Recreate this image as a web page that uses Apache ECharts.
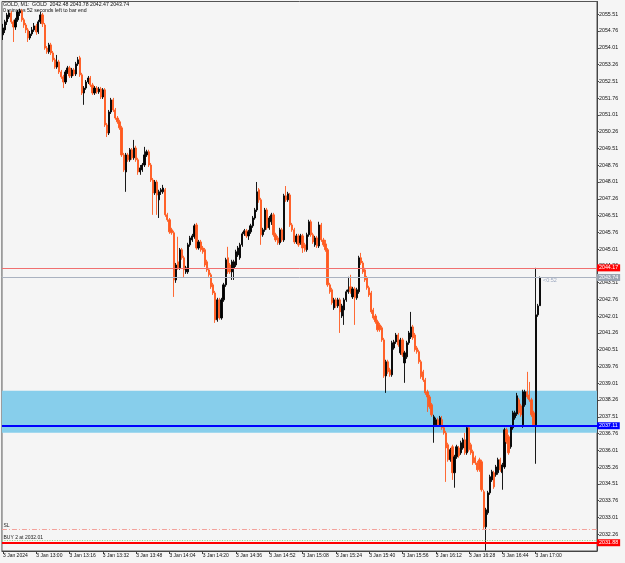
<!DOCTYPE html>
<html>
<head>
<meta charset="utf-8">
<script src="https://cdn.jsdelivr.net/npm/echarts@6/dist/echarts.min.js"></script>
<style>
html,body{margin:0;padding:0;background:#f5f5f5;}
#chart{width:625px;height:563px;}
</style>
</head>
<body>
<div id="chart"></div>
<script>
// ---- data (GOLD, M1, 3 Jan 2024) ----
const startHour = 12, startMinute = 44;   // first bar time
const slotCount = 286;                     // bars + right shift slots
const tickLabels = ['3 Jan 2024','3 Jan 13:00','3 Jan 13:16','3 Jan 13:32','3 Jan 13:48','3 Jan 14:04','3 Jan 14:20','3 Jan 14:36','3 Jan 14:52','3 Jan 15:08','3 Jan 15:24','3 Jan 15:40','3 Jan 15:56','3 Jan 16:12','3 Jan 16:28','3 Jan 16:44','3 Jan 17:00'];
const priceMin = 2031.51, priceMax = 2056.08, priceStep = 0.75;
// [open, close, low, high]
const ohlc = [
[2054.59,2054.90,2054.36,2055.08],[2054.81,2055.17,2054.67,2055.26],[2055.17,2055.48,2055.03,2055.57],[2055.39,2055.57,2055.30,2055.70],
[2055.57,2055.17,2055.08,2055.66],[2055.17,2054.94,2054.27,2055.26],[2054.94,2055.26,2054.81,2055.35],[2055.26,2055.61,2055.17,2055.70],
[2055.57,2055.66,2055.43,2055.75],[2055.66,2055.26,2055.17,2055.75],[2055.26,2055.03,2054.90,2055.35],[2055.03,2054.81,2054.67,2055.12],
[2054.81,2054.45,2054.27,2054.90],[2054.45,2054.63,2054.36,2054.76],[2054.63,2054.81,2054.54,2054.94],[2054.81,2054.99,2054.72,2055.12],
[2054.99,2054.72,2054.59,2055.08],[2054.72,2055.17,2054.63,2055.26],[2055.17,2055.48,2055.08,2055.61],[2055.48,2055.08,2054.94,2055.57],
[2055.03,2054.00,2053.92,2055.12],[2054.00,2053.83,2053.74,2054.09],[2053.83,2054.14,2053.74,2054.23],[2054.14,2053.78,2053.69,2054.23],
[2053.78,2053.47,2053.38,2053.87],[2053.47,2053.15,2053.07,2053.56],[2053.15,2053.38,2053.07,2053.69],[2053.38,2052.93,2052.84,2053.47],
[2052.93,2052.71,2052.62,2053.02],[2052.71,2052.48,2052.21,2052.80],[2052.48,2052.93,2052.39,2053.02],[2052.93,2053.11,2052.84,2053.20],
[2053.11,2052.75,2052.66,2053.20],[2052.75,2053.02,2052.66,2053.11],[2053.02,2052.84,2052.75,2053.11],[2052.84,2053.29,2052.75,2053.38],
[2053.29,2053.47,2053.20,2053.60],[2053.56,2052.80,2052.71,2053.65],[2052.80,2051.99,2051.90,2052.89],[2051.99,2052.21,2051.46,2052.30],
[2052.21,2052.48,2052.13,2052.57],[2052.48,2052.66,2052.39,2052.75],[2052.66,2052.35,2052.26,2052.75],[2052.35,2051.99,2051.90,2052.44],
[2051.99,2052.21,2051.90,2052.30],[2052.21,2052.04,2051.95,2052.30],[2052.04,2052.17,2051.95,2052.26],[2052.17,2051.81,2051.72,2052.26],
[2051.81,2052.13,2051.72,2052.21],[2052.13,2050.56,2050.47,2052.21],[2050.56,2050.20,2050.02,2050.65],[2050.20,2051.14,2050.11,2051.23],
[2051.14,2051.68,2051.05,2051.77],[2051.68,2051.23,2051.14,2051.77],[2051.23,2050.87,2050.79,2051.32],[2050.87,2050.70,2050.61,2050.96],
[2050.70,2050.43,2050.34,2050.79],[2050.43,2049.22,2049.13,2050.52],[2049.22,2048.55,2048.46,2049.31],[2048.46,2049.22,2047.57,2049.31],
[2049.22,2049.00,2048.91,2049.31],[2049.00,2049.45,2048.91,2049.53],[2049.45,2049.09,2049.00,2049.53],[2049.09,2049.53,2049.00,2049.89],
[2049.53,2049.00,2048.91,2049.63],[2049.00,2048.46,2048.33,2049.09],[2048.46,2048.64,2048.33,2048.77],[2048.55,2048.77,2048.46,2048.86],
[2048.77,2049.22,2048.68,2049.58],[2049.22,2049.36,2049.13,2049.45],[2049.36,2048.77,2048.68,2049.45],[2048.77,2048.10,2048.01,2048.86],
[2048.10,2047.52,2046.54,2048.19],[2047.52,2048.01,2047.43,2048.10],[2048.01,2047.43,2046.54,2048.10],[2047.21,2047.57,2046.40,2047.66],
[2047.57,2047.66,2047.43,2047.74],[2047.57,2047.74,2047.48,2047.88],[2047.66,2046.54,2046.45,2047.74],[2046.54,2046.32,2046.23,2046.63],
[2046.32,2045.78,2045.69,2046.40],[2045.87,2045.74,2045.65,2045.96],[2045.74,2043.63,2042.87,2045.83],[2043.63,2044.30,2043.50,2044.39],
[2044.44,2044.17,2044.08,2045.56],[2044.17,2044.98,2044.08,2045.06],[2044.98,2044.62,2044.53,2045.06],[2044.62,2044.08,2043.72,2044.71],
[2043.99,2044.17,2043.90,2044.26],[2043.99,2045.20,2043.90,2045.29],[2045.20,2045.51,2045.11,2045.60],[2045.42,2045.60,2045.33,2045.69],
[2045.56,2046.05,2045.47,2046.14],[2046.09,2045.06,2044.98,2046.18],[2045.06,2045.33,2044.98,2045.42],[2045.33,2044.98,2044.89,2045.42],
[2045.06,2044.89,2044.80,2045.15],[2044.98,2044.30,2044.21,2045.06],[2044.44,2044.08,2043.99,2044.53],[2044.08,2043.86,2043.77,2044.17],
[2043.86,2043.32,2043.23,2043.95],[2043.41,2043.05,2042.96,2043.50],[2043.05,2041.85,2041.71,2043.14],[2041.85,2042.74,2041.76,2042.83],
[2042.74,2041.93,2041.85,2042.83],[2041.93,2042.74,2041.85,2042.83],[2042.74,2043.41,2042.65,2043.50],[2043.41,2044.53,2043.32,2044.62],
[2044.62,2043.99,2043.90,2045.11],[2044.30,2043.99,2043.90,2044.39],[2043.99,2044.44,2043.63,2044.53],[2044.17,2044.44,2043.63,2044.53],
[2044.30,2044.89,2044.21,2044.98],[2044.75,2045.06,2044.66,2045.15],[2044.62,2045.20,2044.53,2045.29],[2045.20,2045.69,2045.11,2045.78],
[2045.69,2045.83,2045.60,2045.91],[2045.83,2045.60,2045.51,2045.91],[2045.60,2045.78,2045.42,2045.87],[2045.78,2046.05,2045.69,2046.14],
[2046.05,2046.40,2045.96,2046.49],[2046.40,2046.76,2046.32,2046.85],[2046.76,2047.57,2046.67,2048.01],[2047.66,2047.21,2047.08,2047.74],
[2047.21,2045.65,2045.20,2047.30],[2045.65,2045.87,2045.56,2045.96],[2045.87,2046.76,2045.78,2046.85],[2046.76,2045.96,2045.87,2046.85],
[2045.96,2046.40,2045.87,2046.49],[2046.23,2046.54,2046.09,2046.63],[2046.54,2045.65,2045.56,2046.63],[2045.65,2045.42,2045.33,2045.74],
[2045.51,2045.29,2045.20,2045.60],[2045.29,2045.87,2045.20,2045.96],[2045.87,2045.42,2045.33,2045.96],[2045.42,2047.39,2045.33,2047.48],
[2047.39,2047.21,2047.12,2047.83],[2047.21,2047.48,2047.12,2047.57],[2047.43,2046.09,2046.00,2047.52],[2046.09,2045.87,2045.78,2046.18],
[2045.87,2045.33,2045.24,2045.96],[2045.33,2045.60,2045.24,2045.69],[2045.60,2045.20,2045.11,2045.69],[2045.29,2045.60,2045.20,2045.69],
[2045.60,2045.06,2044.84,2045.69],[2045.20,2044.98,2044.89,2045.29],[2044.98,2045.65,2044.89,2045.74],[2045.65,2046.23,2045.56,2046.32],
[2046.23,2045.65,2045.56,2046.32],[2045.65,2045.33,2045.24,2045.74],[2045.20,2045.51,2045.11,2045.60],[2045.51,2045.15,2045.06,2045.60],
[2045.15,2046.09,2045.06,2046.23],[2046.09,2045.42,2045.33,2046.18],[2045.42,2045.20,2045.11,2045.51],[2045.24,2044.98,2044.89,2045.42],
[2044.98,2043.41,2043.32,2045.06],[2043.41,2043.10,2043.01,2043.50],[2043.19,2042.61,2042.52,2043.28],[2042.38,2042.74,2042.29,2042.83],
[2042.74,2042.47,2042.38,2042.83],[2042.47,2042.74,2042.38,2042.83],[2042.74,2042.20,2041.26,2042.83],[2042.02,2042.47,2041.93,2042.56],
[2042.29,2042.74,2041.62,2042.83],[2042.74,2043.10,2042.65,2043.19],[2043.10,2043.19,2043.01,2043.77],[2043.32,2043.10,2043.01,2043.86],
[2042.87,2043.23,2042.78,2043.32],[2043.23,2042.83,2041.62,2043.32],[2042.83,2043.19,2042.74,2043.28],[2043.10,2044.62,2043.01,2044.71],
[2044.62,2044.39,2044.30,2044.84],[2044.39,2043.99,2043.90,2044.48],[2044.08,2043.63,2043.54,2044.17],[2043.72,2043.28,2043.19,2043.81],
[2043.28,2042.96,2042.87,2043.37],[2043.05,2042.20,2042.11,2043.14],[2042.29,2041.93,2041.85,2042.38],[2042.02,2041.76,2041.67,2042.11],
[2041.76,2041.40,2041.31,2041.85],[2041.62,2041.40,2041.31,2041.71],[2041.49,2040.95,2040.86,2041.58],[2040.95,2039.34,2039.25,2041.04],
[2039.34,2039.97,2038.58,2040.06],[2039.97,2039.52,2039.43,2040.06],[2039.61,2039.39,2039.30,2039.70],[2039.39,2040.82,2039.30,2040.91],
[2040.59,2040.86,2040.51,2040.95],[2040.86,2041.17,2040.77,2041.26],[2041.17,2040.73,2040.64,2041.26],[2040.37,2040.95,2040.28,2041.04],
[2040.95,2040.28,2040.19,2041.04],[2039.92,2040.37,2039.03,2040.46],[2040.19,2040.82,2040.10,2040.91],[2040.82,2041.26,2040.73,2041.35],
[2041.08,2041.53,2040.99,2042.20],[2041.53,2041.04,2040.95,2041.62],[2041.17,2040.51,2040.42,2041.26],[2040.59,2040.42,2040.33,2040.68],
[2040.42,2039.97,2039.88,2040.51],[2039.97,2039.30,2039.21,2040.06],[2039.52,2039.16,2039.07,2039.61],[2039.16,2038.58,2038.49,2039.25],
[2038.63,2038.40,2037.73,2038.72],[2038.40,2037.96,2037.87,2038.49],[2038.05,2037.60,2037.51,2038.13],[2037.15,2037.51,2036.35,2037.60],
[2037.15,2037.38,2037.06,2037.47],[2037.38,2037.15,2037.06,2037.47],[2037.15,2037.47,2037.06,2037.55],[2037.38,2037.02,2036.93,2037.55],
[2037.02,2036.79,2036.71,2037.11],[2036.79,2036.12,2034.60,2036.88],[2036.26,2035.59,2035.50,2036.35],[2035.59,2036.04,2035.50,2036.12],
[2036.17,2035.01,2034.69,2036.26],[2035.01,2035.72,2034.34,2035.81],[2035.72,2036.17,2035.63,2036.26],[2036.12,2035.77,2035.68,2036.21],
[2035.90,2036.35,2035.81,2036.44],[2036.12,2036.48,2036.04,2036.57],[2036.48,2035.90,2035.81,2036.79],[2035.90,2037.02,2035.81,2037.11],
[2037.02,2036.04,2035.95,2037.11],[2036.26,2035.90,2035.81,2036.35],[2035.95,2035.45,2035.36,2036.04],[2035.68,2035.45,2035.36,2035.77],
[2035.45,2035.14,2035.05,2035.54],[2035.59,2035.14,2035.05,2035.68],[2035.50,2034.25,2034.16,2035.59],[2034.16,2032.59,2032.50,2034.25],
[2032.59,2033.35,2031.53,2033.44],[2033.22,2034.11,2033.13,2034.20],[2034.11,2034.83,2034.02,2034.92],[2034.69,2035.05,2034.60,2035.14],
[2035.01,2034.38,2034.29,2035.10],[2034.92,2035.27,2034.83,2035.36],[2035.01,2035.59,2034.92,2035.68],[2035.59,2035.14,2035.05,2035.68],
[2035.01,2035.36,2034.25,2035.45],[2035.27,2036.93,2035.18,2037.02],[2036.93,2036.39,2036.30,2037.02],[2036.62,2035.90,2035.81,2036.71],
[2036.17,2037.06,2036.08,2037.15],[2037.02,2037.69,2036.93,2037.78],[2037.47,2037.69,2037.38,2037.78],[2037.64,2038.45,2037.55,2038.58],
[2038.27,2037.69,2037.60,2038.36],[2038.00,2037.60,2037.51,2038.09],[2037.15,2038.63,2037.02,2038.72],[2038.05,2038.63,2037.96,2038.72],
[2038.63,2038.40,2038.31,2039.52],[2038.49,2038.27,2038.18,2039.07],[2038.27,2037.60,2037.51,2038.36],[2037.69,2037.15,2037.06,2037.78],
[2037.15,2042.07,2035.41,2044.17],[2042.07,2042.47,2041.98,2042.56],[2042.48,2043.74,2042.47,2043.78]
];
const lastBar = {open:2042.48, high:2043.78, low:2042.47, close:2043.74};
const levelHigh = 2044.17, levelBid = 2043.74, levelBlue = 2037.11;
const levelSL = 2032.48, levelBuy = 2032.01, levelRed = 2031.88;
const zoneLow = 2036.80, zoneHigh = 2038.67;

// ---- build ----
const categories = [];
for (let i = 0; i < slotCount; i++) {
  const t = startHour * 60 + startMinute + i;
  categories.push(Math.floor(t / 60) + ':' + String(t % 60).padStart(2, '0'));
}
const showTick = (i) => i % 16 === 0 && i / 16 < tickLabels.length;
const FONT = 'Liberation Sans';
const boxLabel = (bg) => ({
  show: true, position: 'end', distance: 0, formatter: (p) => p.value.toFixed(2),
  backgroundColor: bg, color: '#ffffff', fontSize: 5.3, fontFamily: FONT,
  padding: [1, 2, 0, 2], lineHeight: 6
});

const chart = echarts.init(document.getElementById('chart'), null, {renderer: 'canvas'});
chart.setOption({
  animation: false,
  backgroundColor: '#f5f5f5',
  grid: {left: 1, right: 28, top: 1.5, bottom: 12, show: true, borderColor: '#555', borderWidth: 1, backgroundColor: 'transparent'},
  xAxis: {
    type: 'category', data: categories, boundaryGap: true,
    axisLine: {show: true, lineStyle: {color: '#444', width: 1}},
    axisTick: {show: true, alignWithLabel: true, interval: showTick, length: 3, lineStyle: {color: '#444'}},
    axisLabel: {interval: showTick, formatter: (v, i) => tickLabels[i / 16] || '', align: 'left', margin: 2,
      fontSize: 5, color: '#111', fontFamily: FONT},
    splitLine: {show: false}
  },
  yAxis: {
    type: 'value', position: 'right', min: priceMin, max: priceMax, interval: priceStep,
    axisLine: {show: true, lineStyle: {color: '#444'}},
    axisTick: {show: true, length: 2, lineStyle: {color: '#444'}},
    axisLabel: {formatter: (v) => v.toFixed(2), fontSize: 5.3, margin: 2, color: '#111', fontFamily: FONT,
      showMinLabel: false, showMaxLabel: false},
    splitLine: {show: false}
  },
  series: [{
    type: 'candlestick',
    data: ohlc,
    barWidth: 1.7,
    itemStyle: {color: '#000000', color0: '#ff5a1f', borderColor: '#000000', borderColor0: '#ff5a1f', borderWidth: 0.9},
    markArea: {
      silent: true,
      itemStyle: {color: '#87ceeb', borderWidth: 0},
      data: [[{yAxis: zoneLow}, {yAxis: zoneHigh}]]
    },
    markLine: {
      silent: true, symbol: 'none', animation: false,
      label: {show: false},
      data: [
        {yAxis: levelHigh, lineStyle: {color: '#f07070', width: 1, type: 'solid'}, label: boxLabel('#ff0000')},
        {yAxis: levelBid, lineStyle: {color: '#aab2c0', width: 1, type: 'solid'}, label: boxLabel('#9aa3b0')},
        {yAxis: levelBlue, lineStyle: {color: '#0000ff', width: 2, type: 'solid'}, label: boxLabel('#0000ff')},
        {yAxis: levelSL, lineStyle: {color: '#f3a19b', width: 1, type: [5, 2, 1, 2]}, label: {show: false}},
        {yAxis: levelBuy, lineStyle: {color: '#86dc86', width: 1, type: [1, 1.5]}, label: {show: false}},
        {yAxis: levelRed, lineStyle: {color: '#ff0000', width: 2, type: 'solid'}, label: boxLabel('#ff0000')}
      ]
    }
  }],
  graphic: [
    {type: 'text', left: 3, top: 2, style: {text: 'GOLD, M1:  GOLD  ' + [lastBar.open, lastBar.high, lastBar.low, lastBar.close].map(v => v.toFixed(2)).join(' '), fontSize: 5.2, fill: '#111', fontFamily: FONT}},
    {type: 'text', left: 3, top: 8.5, style: {text: '0 minutes 52 seconds left to bar end', fontSize: 5.2, fill: '#111', fontFamily: FONT}},
    {type: 'text', left: 3.5, top: 523, style: {text: 'SL', fontSize: 5, fill: '#222', fontFamily: FONT}},
    {type: 'text', left: 3.5, top: 535, style: {text: 'BUY 2 at ' + levelBuy.toFixed(2), fontSize: 5, fill: '#222', fontFamily: FONT}},
    {type: 'text', left: 543, top: 277, style: {text: '<0:52', fontSize: 5.5, fill: '#9ba7bf', fontFamily: FONT}}
  ]
});
</script>
</body>
</html>
